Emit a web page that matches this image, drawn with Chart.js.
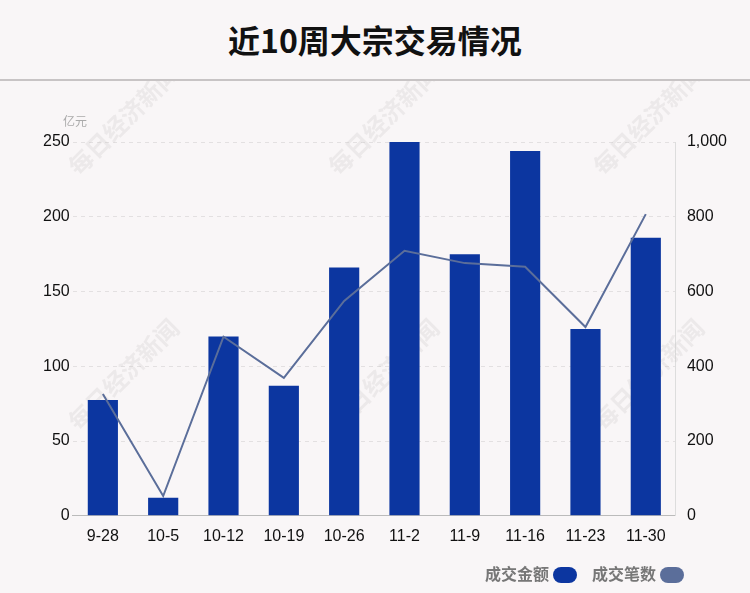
<!DOCTYPE html>
<html><head><meta charset="utf-8">
<script src="https://cdn.jsdelivr.net/npm/chart.js@4"></script>
<style>
body{margin:0;background:#f9f6f7;font-family:"Noto Sans CJK SC","Liberation Sans",sans-serif;overflow:hidden;}
#title{height:81px;line-height:78px;text-align:center;font-size:32px;font-weight:bold;color:#111;border-bottom:2px solid #c8c4c5;box-sizing:border-box;}
#wrap{position:relative;width:750px;height:512px;}
</style></head><body>
<div id="title">近10周大宗交易情况</div>
<div id="wrap"><canvas id="c" width="750" height="512"></canvas></div>
<script>
const weeks = ["9-28","10-5","10-12","10-19","10-26","11-2","11-9","11-16","11-23","11-30"];
const amount = [77.5,12,120,87,166,250,175,244,125,186];
const deals = [326,53,479,369,575,709,676,666,505,807];

// faint watermark + unit label
const extras = {
  id: "extras",
  beforeDatasetsDraw(chart) {
    const c = chart.ctx;
    c.save();
    c.fillStyle = "#aaa";
    c.font = "12px 'Noto Sans CJK SC'";
    c.fillText("亿元", 63, 45);
    c.font = "bold 24px 'Noto Sans CJK SC'";
    c.fillStyle = "rgba(200,195,196,0.25)";
    for (const [x, y] of [[130,45],[390,45],[655,45],[130,300],[390,300],[655,300]]) {
      c.save(); c.translate(x, y); c.rotate(-Math.PI / 4);
      c.textAlign = "center"; c.fillText("每日经济新闻", 0, 0); c.restore();
    }
    c.restore();
  }
};

new Chart(document.getElementById("c"), {
  data: {
    labels: weeks,
    datasets: [
      { type: "line", label: "成交笔数", data: deals, yAxisID: "y1", borderColor: "#5b6e9a",
        backgroundColor: "#5b6e9a", borderWidth: 2, pointRadius: 0, tension: 0, order: 0 },
      { type: "bar", label: "成交金额", data: amount, yAxisID: "y", backgroundColor: "#0c36a0",
        barPercentage: 0.5, categoryPercentage: 1, order: 1 }
    ]
  },
  options: {
    responsive: false, animation: false,
    layout: { padding: { top: 61, left: 40, right: 20, bottom: 44 } },
    plugins: {
      legend: { display: false }, tooltip: { enabled: false }
    },
    scales: {
      x: { grid: { display: false }, border: { color: "#bbb" },
        ticks: { color: "#111", font: { size: 16, family: "Liberation Sans" } } },
      y: { position: "left", min: 0, max: 250, ticks: { stepSize: 50, color: "#111", font: { size: 16, family: "Liberation Sans" } },
        grid: { color: "#e3e0e1", drawTicks: false }, border: { display: false, dash: [4, 4] } },
      y1: { position: "right", min: 0, max: 1000, ticks: { stepSize: 200, color: "#111", font: { size: 16, family: "Liberation Sans" },
        callback: v => v.toLocaleString("en-US") }, grid: { display: false }, border: { color: "#ddd" } }
    }
  },
  plugins: [extras]
});

// legend drawn after chart
const cv = document.getElementById("c").getContext("2d");
setTimeout(() => {
  cv.save();
  cv.font = "bold 16px 'Noto Sans CJK SC'";
  const items = [["成交金额", "#0c36a0", 485], ["成交笔数", "#5b6e9a", 592]];
  for (const [t, col, x] of items) {
    cv.fillStyle = "#777"; cv.textBaseline = "middle"; cv.fillText(t, x, 493);
    cv.fillStyle = col; cv.beginPath(); cv.roundRect(x + 68, 486, 24, 16, 8); cv.fill();
  }
  cv.restore();
}, 50);
</script>
</body></html>
